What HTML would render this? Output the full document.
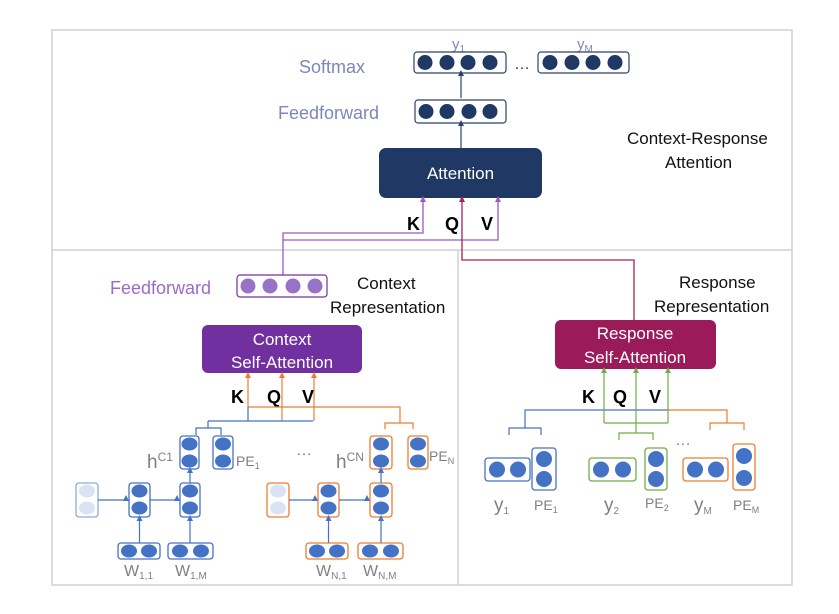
<!DOCTYPE html>
<html><head><style>
body{margin:0;background:#fff}
svg{display:block;font-family:"Liberation Sans",sans-serif}
</style></head><body>
<svg width="839" height="614" viewBox="0 0 839 614" xmlns="http://www.w3.org/2000/svg">
<defs>
<marker id="an" markerWidth="6" markerHeight="6" refX="3" refY="5" markerUnits="userSpaceOnUse"><path d="M0,6 L3,0 L6,6z" fill="#2e4268"/></marker>
<marker id="ap" markerWidth="6" markerHeight="6" refX="3" refY="5" markerUnits="userSpaceOnUse"><path d="M0,6 L3,0 L6,6z" fill="#9b59c6"/></marker>
<marker id="ac" markerWidth="6" markerHeight="6" refX="3" refY="5" markerUnits="userSpaceOnUse"><path d="M0,6 L3,0 L6,6z" fill="#a3245e"/></marker>
<marker id="ao" markerWidth="6" markerHeight="6" refX="3" refY="5" markerUnits="userSpaceOnUse"><path d="M0,6 L3,0 L6,6z" fill="#ed7d31"/></marker>
<marker id="ag" markerWidth="6" markerHeight="6" refX="3" refY="5" markerUnits="userSpaceOnUse"><path d="M0,6 L3,0 L6,6z" fill="#70ad47"/></marker>
<marker id="ab" markerWidth="6" markerHeight="6" refX="3" refY="5" markerUnits="userSpaceOnUse"><path d="M0,6 L3,0 L6,6z" fill="#4472c4"/></marker>
</defs>
<rect x="52" y="30" width="740" height="555" fill="none" stroke="#d0d0d0" stroke-width="1.5"/>
<line x1="52" y1="250" x2="792" y2="250" stroke="#d0d0d0" stroke-width="1.5"/>
<line x1="458" y1="250" x2="458" y2="585" stroke="#d0d0d0" stroke-width="1.5"/>

<text x="299" y="73" font-size="18" fill="#7f86b8">Softmax</text>
<text x="278" y="119" font-size="18" fill="#7f86b8">Feedforward</text>
<text x="452" y="49" font-size="15" fill="#7f86b8">y<tspan font-size="10" dy="3">1</tspan></text>
<text x="577" y="49" font-size="15" fill="#7f86b8">y<tspan font-size="10" dy="3">M</tspan></text>
<g stroke="#2e4268" stroke-width="1.2" fill="none">
<rect x="414" y="52" width="92" height="21" rx="3"/>
<rect x="538" y="52" width="91" height="21" rx="3"/>
<rect x="415" y="100" width="91" height="23" rx="3"/>
</g>
<g fill="#1f3864">
<circle cx="425" cy="62.5" r="7.5"/><circle cx="447" cy="62.5" r="7.5"/><circle cx="468" cy="62.5" r="7.5"/><circle cx="490" cy="62.5" r="7.5"/>
<circle cx="550" cy="62.5" r="7.5"/><circle cx="572" cy="62.5" r="7.5"/><circle cx="593" cy="62.5" r="7.5"/><circle cx="615" cy="62.5" r="7.5"/>
<circle cx="426" cy="111.5" r="7.5"/><circle cx="447" cy="111.5" r="7.5"/><circle cx="469" cy="111.5" r="7.5"/><circle cx="490" cy="111.5" r="7.5"/>
</g>
<text x="514" y="69" font-size="16" fill="#333">…</text>
<line x1="461" y1="98" x2="461" y2="75" stroke="#2e4268" stroke-width="1.2" marker-end="url(#an)"/>
<line x1="461" y1="148" x2="461" y2="125" stroke="#2e4268" stroke-width="1.2" marker-end="url(#an)"/>
<rect x="379" y="148" width="163" height="50" rx="7" fill="#1f3864"/>
<text x="460.5" y="179" font-size="17" fill="#fff" text-anchor="middle">Attention</text>
<text x="627" y="144" font-size="17" fill="#111">Context-Response</text>
<text x="665" y="168" font-size="17" fill="#111">Attention</text>
<text x="407" y="230" font-size="18" font-weight="bold" fill="#000">K</text>
<text x="445" y="230" font-size="18" font-weight="bold" fill="#000">Q</text>
<text x="481" y="230" font-size="18" font-weight="bold" fill="#000">V</text>
<g stroke="#9b59c6" stroke-width="1.3" fill="none">
<polyline points="283,275 283,233 423,233 423,201" marker-end="url(#ap)"/>
<polyline points="283,240 498,240 498,201" marker-end="url(#ap)"/>
</g>
<polyline points="634,320 634,260 462,260 462,201" stroke="#a3245e" stroke-width="1.3" fill="none" marker-end="url(#ac)"/>

<text x="110" y="294" font-size="18" fill="#9b6bc6">Feedforward</text>
<rect x="237" y="275" width="90" height="22" rx="3" fill="none" stroke="#7030a0" stroke-width="1.2"/>
<g fill="#9673c6"><circle cx="248" cy="286" r="7.5"/><circle cx="270" cy="286" r="7.5"/><circle cx="293" cy="286" r="7.5"/><circle cx="315" cy="286" r="7.5"/></g>
<text x="357" y="289" font-size="17" fill="#111">Context</text>
<text x="330" y="313" font-size="17" fill="#111">Representation</text>
<rect x="202" y="325" width="160" height="48" rx="6" fill="#7030a0"/>
<text x="282" y="345" font-size="17" fill="#fff" text-anchor="middle">Context</text>
<text x="282" y="368" font-size="17" fill="#fff" text-anchor="middle">Self-Attention</text>
<text x="231" y="403" font-size="18" font-weight="bold">K</text>
<text x="267" y="403" font-size="18" font-weight="bold">Q</text>
<text x="302" y="403" font-size="18" font-weight="bold">V</text>
<g stroke="#ed7d31" stroke-width="1.2" fill="none">
<polyline points="248,407 400,407 400,423"/>
<polyline points="385,429 385,423 413,423 413,429"/>
</g>
<g stroke="#ed7d31" stroke-width="1.2" marker-end="url(#ao)">
<line x1="248" y1="407" x2="248" y2="377"/>
<line x1="282" y1="421" x2="282" y2="377"/>
<line x1="314" y1="421" x2="314" y2="377"/>
</g>
<g stroke="#4472c4" stroke-width="1.2" fill="none">
<polyline points="208,421 313,421"/>
<line x1="248" y1="421" x2="248" y2="407"/>
<polyline points="208,421 208,428"/>
<polyline points="196,435 196,428 221,428 221,435"/>
</g>
<g fill="none" stroke-width="1.3">
<rect x="180" y="436" width="19" height="33" rx="3" stroke="#4472c4"/>
<rect x="213" y="436" width="20" height="33" rx="3" stroke="#4472c4"/>
<rect x="76" y="483" width="22" height="34" rx="3" stroke="#8faadc"/>
<rect x="129" y="483" width="21" height="34" rx="3" stroke="#4472c4"/>
<rect x="180" y="483" width="20" height="34" rx="3" stroke="#4472c4"/>
<rect x="118" y="543" width="42" height="16" rx="3" stroke="#4472c4"/>
<rect x="168" y="543" width="45" height="16" rx="3" stroke="#4472c4"/>
<rect x="370" y="436" width="22" height="33" rx="3" stroke="#ed7d31"/>
<rect x="408" y="436" width="20" height="33" rx="3" stroke="#ed7d31"/>
<rect x="267" y="483" width="22" height="34" rx="3" stroke="#ed7d31"/>
<rect x="318" y="483" width="21" height="34" rx="3" stroke="#ed7d31"/>
<rect x="370" y="483" width="22" height="34" rx="3" stroke="#ed7d31"/>
<rect x="306" y="543" width="42" height="16" rx="3" stroke="#ed7d31"/>
<rect x="358" y="543" width="45" height="16" rx="3" stroke="#ed7d31"/>
</g>
<g fill="#4472c4">
<ellipse cx="189.5" cy="444" rx="8" ry="6.5"/><ellipse cx="189.5" cy="461" rx="8" ry="6.5"/>
<ellipse cx="223" cy="444" rx="8" ry="6.5"/><ellipse cx="223" cy="461" rx="8" ry="6.5"/>
<ellipse cx="139.5" cy="491" rx="8" ry="6.5"/><ellipse cx="139.5" cy="508" rx="8" ry="6.5"/>
<ellipse cx="190" cy="491" rx="8" ry="6.5"/><ellipse cx="190" cy="508" rx="8" ry="6.5"/>
<ellipse cx="129" cy="551" rx="8" ry="6.5"/><ellipse cx="149" cy="551" rx="8" ry="6.5"/>
<ellipse cx="180" cy="551" rx="8" ry="6.5"/><ellipse cx="201" cy="551" rx="8" ry="6.5"/>
<ellipse cx="381" cy="444" rx="8" ry="6.5"/><ellipse cx="381" cy="461" rx="8" ry="6.5"/>
<ellipse cx="418" cy="444" rx="8" ry="6.5"/><ellipse cx="418" cy="461" rx="8" ry="6.5"/>
<ellipse cx="328.5" cy="491" rx="8" ry="6.5"/><ellipse cx="328.5" cy="508" rx="8" ry="6.5"/>
<ellipse cx="381" cy="491" rx="8" ry="6.5"/><ellipse cx="381" cy="508" rx="8" ry="6.5"/>
<ellipse cx="317" cy="551" rx="8" ry="6.5"/><ellipse cx="337" cy="551" rx="8" ry="6.5"/>
<ellipse cx="370" cy="551" rx="8" ry="6.5"/><ellipse cx="391" cy="551" rx="8" ry="6.5"/>
</g>
<g fill="#dae3f3">
<ellipse cx="87" cy="491" rx="8" ry="6.5"/><ellipse cx="87" cy="508" rx="8" ry="6.5"/>
<ellipse cx="278" cy="491" rx="8" ry="6.5"/><ellipse cx="278" cy="508" rx="8" ry="6.5"/>
</g>
<g stroke="#4472c4" stroke-width="1.2" marker-end="url(#ab)">
<line x1="98" y1="500" x2="126" y2="500"/>
<line x1="150" y1="500" x2="177" y2="500"/>
<line x1="139.5" y1="543" x2="139.5" y2="520"/>
<line x1="190" y1="543" x2="190" y2="520"/>
<line x1="190" y1="483" x2="190" y2="472"/>
<line x1="289" y1="500" x2="315" y2="500"/>
<line x1="339" y1="500" x2="367" y2="500"/>
<line x1="328.5" y1="543" x2="328.5" y2="520"/>
<line x1="381" y1="543" x2="381" y2="520"/>
<line x1="381" y1="483" x2="381" y2="472"/>
</g>
<g fill="#808080">
<text x="147" y="468" font-size="19">h<tspan font-size="12" dy="-7">C1</tspan></text>
<text x="236" y="466" font-size="14">PE<tspan font-size="9" dy="3">1</tspan></text>
<text x="336" y="468" font-size="19">h<tspan font-size="12" dy="-7">CN</tspan></text>
<text x="429" y="461" font-size="14">PE<tspan font-size="9" dy="3">N</tspan></text>
<text x="296" y="455" font-size="16">…</text>
<text x="124" y="576" font-size="16">W<tspan font-size="10" dy="3">1,1</tspan></text>
<text x="175" y="576" font-size="16">W<tspan font-size="10" dy="3">1,M</tspan></text>
<text x="316" y="576" font-size="16">W<tspan font-size="10" dy="3">N,1</tspan></text>
<text x="363" y="576" font-size="16">W<tspan font-size="10" dy="3">N,M</tspan></text>
</g>

<text x="679" y="288" font-size="17" fill="#111">Response</text>
<text x="654" y="312" font-size="17" fill="#111">Representation</text>
<rect x="555" y="320" width="161" height="49" rx="6" fill="#9b1b5a"/>
<text x="635" y="339" font-size="17" fill="#fff" text-anchor="middle">Response</text>
<text x="635" y="363" font-size="17" fill="#fff" text-anchor="middle">Self-Attention</text>
<text x="582" y="403" font-size="18" font-weight="bold">K</text>
<text x="613" y="403" font-size="18" font-weight="bold">Q</text>
<text x="649" y="403" font-size="18" font-weight="bold">V</text>
<g stroke="#4472c4" stroke-width="1.2" fill="none">
<polyline points="668,410 525,410 525,428"/>
<polyline points="509,435 509,428 541,428 541,435"/>
</g>
<g stroke="#ed7d31" stroke-width="1.2" fill="none">
<polyline points="668,410 727,410 727,423"/>
<polyline points="710,430 710,423 744,423 744,430"/>
</g>
<g stroke="#70ad47" stroke-width="1.2" fill="none">
<polyline points="604,423 668,423"/>
<line x1="636" y1="423" x2="636" y2="433"/>
<polyline points="619,440 619,433 653,433 653,440"/>
</g>
<g stroke="#70ad47" stroke-width="1.2" marker-end="url(#ag)">
<line x1="604" y1="423" x2="604" y2="372"/>
<line x1="636" y1="423" x2="636" y2="372"/>
<line x1="668" y1="423" x2="668" y2="372"/>
</g>
<g fill="none" stroke-width="1.3">
<rect x="485" y="458" width="45" height="23" rx="3" stroke="#4472c4"/>
<rect x="532" y="448" width="24" height="42" rx="3" stroke="#4472c4"/>
<rect x="589" y="458" width="47" height="23" rx="3" stroke="#70ad47"/>
<rect x="645" y="448" width="22" height="42" rx="3" stroke="#70ad47"/>
<rect x="683" y="458" width="45" height="23" rx="3" stroke="#ed7d31"/>
<rect x="733" y="444" width="22" height="46" rx="3" stroke="#ed7d31"/>
</g>
<g fill="#4472c4">
<circle cx="497" cy="469.5" r="8"/><circle cx="518" cy="469.5" r="8"/>
<circle cx="544" cy="459" r="8"/><circle cx="544" cy="479" r="8"/>
<circle cx="601" cy="469.5" r="8"/><circle cx="623" cy="469.5" r="8"/>
<circle cx="656" cy="459" r="8"/><circle cx="656" cy="479" r="8"/>
<circle cx="695" cy="469.5" r="8"/><circle cx="716" cy="469.5" r="8"/>
<circle cx="744" cy="456" r="8"/><circle cx="744" cy="478" r="8"/>
</g>
<g fill="#808080">
<text x="675" y="445" font-size="16">…</text>
<text x="494" y="511" font-size="19">y<tspan font-size="10" dy="3">1</tspan></text>
<text x="534" y="510" font-size="14">PE<tspan font-size="9" dy="3">1</tspan></text>
<text x="604" y="511" font-size="19">y<tspan font-size="10" dy="3">2</tspan></text>
<text x="645" y="508" font-size="14">PE<tspan font-size="9" dy="3">2</tspan></text>
<text x="694" y="511" font-size="19">y<tspan font-size="10" dy="3">M</tspan></text>
<text x="733" y="510" font-size="14">PE<tspan font-size="9" dy="3">M</tspan></text>
</g>
</svg>
</body></html>
